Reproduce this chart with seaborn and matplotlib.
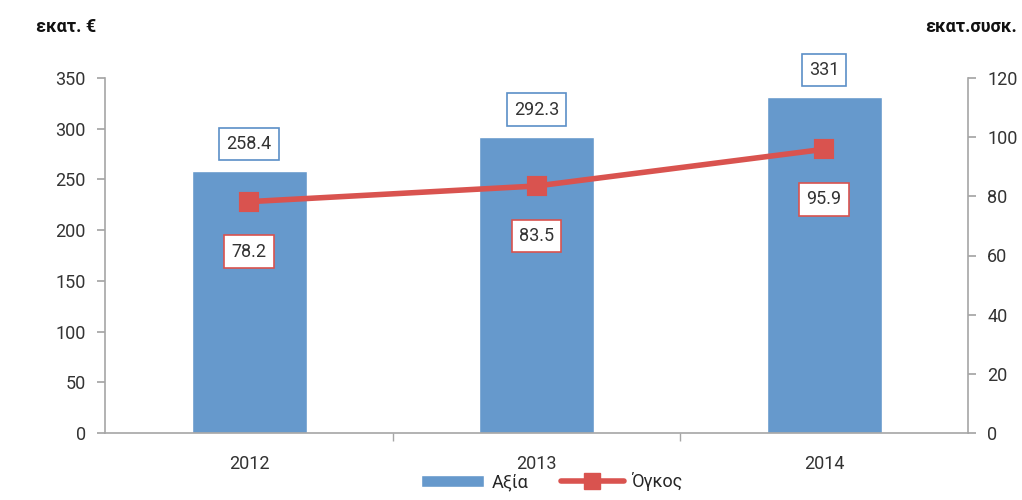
import matplotlib
matplotlib.use("Agg")
import matplotlib.pyplot as plt
import seaborn as sns
import pandas as pd
from matplotlib.patches import Patch
from matplotlib.lines import Line2D

# Δεδομένα
years = ["2012", "2013", "2014"]
axia = [258.4, 292.3, 331]      # εκατ. €
ogkos = [78.2, 83.5, 95.9]      # εκατ. συσκ.

bar_color = "#6699CC"
line_color = "#D9534F"
grey = "#A6A6A6"

sns.set_theme(style="white")
plt.rcParams['font.family'] = ['Roboto', 'DejaVu Sans']

df = pd.DataFrame({"year": years, "axia": axia, "ogkos": ogkos})

fig = plt.figure(figsize=(10.22, 5), dpi=100)
ax = fig.add_axes([0.103, 0.134, 0.844, 0.71])

sns.barplot(data=df, x="year", y="axia", color=bar_color, width=0.4,
            saturation=1, ax=ax)
ax.set_xlim(-0.5, 2.5)
ax.set_ylim(0, 350)
ax.set_yticks(range(0, 351, 50))
ax.set_xlabel("")
ax.set_ylabel("")

ax2 = ax.twinx()
sns.pointplot(data=df, x="year", y="ogkos", color=line_color, markers="s",
              markersize=12, linewidth=4, ax=ax2)
ax2.set_ylim(0, 120)
ax2.set_yticks(range(0, 121, 20))
ax2.set_xlim(-0.5, 2.5)
ax2.set_ylabel("")
ax2.set_xlabel("")

for a in (ax, ax2):
    for s in a.spines.values():
        s.set_visible(False)
ax.spines['left'].set_visible(True)
ax.spines['bottom'].set_visible(True)
ax2.spines['right'].set_visible(True)
for s in (ax.spines['left'], ax.spines['bottom'], ax2.spines['right']):
    s.set_color(grey)
    s.set_linewidth(1.2)

ax.tick_params(axis='y', left=True, length=6, color=grey, labelsize=13,
               labelcolor="#333333", pad=8)
ax2.tick_params(axis='y', right=True, length=6, color=grey, labelsize=13,
                labelcolor="#333333", pad=8)
# x ticks on category boundaries
ax.set_xticks([0.5, 1.5], minor=True)
ax.tick_params(axis='x', which='major', bottom=False, labelsize=13,
               labelcolor="#333333", pad=10)
ax.tick_params(axis='x', which='minor', bottom=True, length=6, color=grey)

# ετικέτες τιμών
for i, v in enumerate(axia):
    ax.annotate(f"{v:g}", (i, v), textcoords="offset pixels", xytext=(0, 27),
                ha="center", va="center", fontsize=13, color="#333333",
                bbox=dict(boxstyle="square,pad=0.4", fc="white",
                          ec="#5B8FC7", lw=1.2))
for i, v in enumerate(ogkos):
    ax2.annotate(f"{v:g}", (i, v), textcoords="offset pixels", xytext=(0, -50),
                 ha="center", va="center", fontsize=13, color="#333333",
                 bbox=dict(boxstyle="square,pad=0.4", fc="white",
                           ec=line_color, lw=1.2))

fig.text(0.035, 0.935, "εκατ. €", fontsize=13, fontweight="bold",
         color="#111111")
fig.text(0.995, 0.935, "εκατ.συσκ.", fontsize=13, fontweight="bold",
         ha="right", color="#111111")

handles = [Patch(facecolor=bar_color, label="Αξία"),
           Line2D([], [], color=line_color, lw=4, marker="s", markersize=12,
                  label="Όγκος")]
fig.legend(handles=handles, loc="lower center", bbox_to_anchor=(0.54, -0.015),
           ncol=2, frameon=False, fontsize=13, handlelength=3.5,
           columnspacing=1.8, handletextpad=0.4)

fig.savefig("out.png", dpi=100)
